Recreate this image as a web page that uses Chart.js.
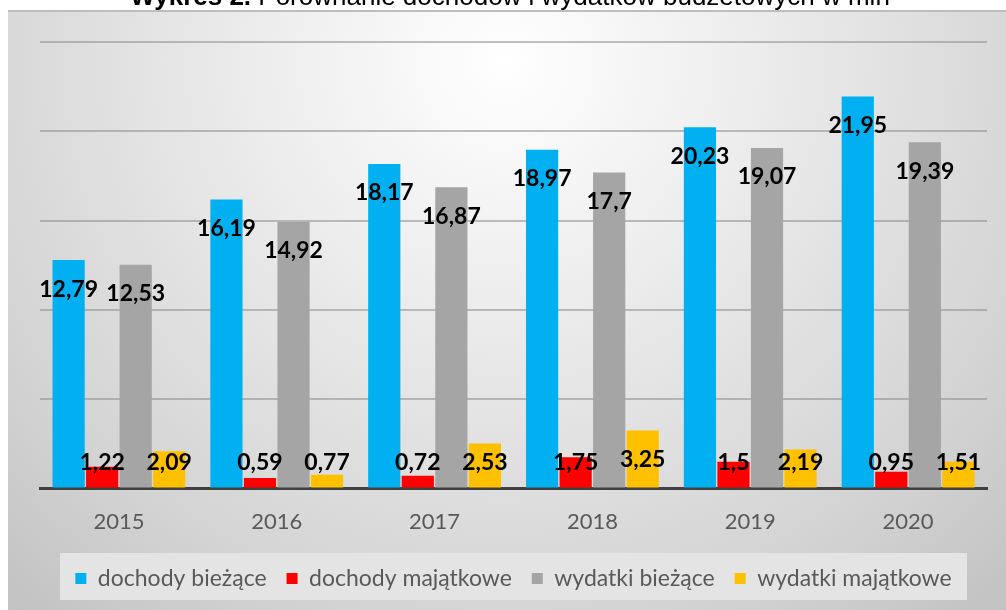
<!DOCTYPE html>
<html>
<head>
<meta charset="utf-8">
<script src="https://cdn.jsdelivr.net/npm/chart.js@4.4.1/dist/chart.umd.min.js"></script>
<style>
    body { margin: 0; background: #fff; }
    #wrap { position: relative; width: 1006px; height: 610px; overflow: hidden; }
    #title {
        position: absolute; left: 0; top: -17px; width: 1006px; padding-left: 14px; box-sizing: border-box;
        text-align: center; font: 26px/26px "Liberation Sans", Arial, sans-serif; color: #000; z-index: 2;
    }
</style>
</head>
<body>
<div id="wrap">
    <div id="title"><b>Wykres 2.</b> Porównanie dochodów i wydatków budżetowych w mln</div>
    <canvas id="myChart" width="1006" height="610"></canvas>
</div>
<script>
const years = ['2015', '2016', '2017', '2018', '2019', '2020'];

const dochodyBiezace = [12.79, 16.19, 18.17, 18.97, 20.23, 21.95];
const dochodyMajatkowe = [1.22, 0.59, 0.72, 1.75, 1.5, 0.95];
const wydatkiBiezace = [12.53, 14.92, 16.87, 17.7, 19.07, 19.39];
const wydatkiMajatkowe = [2.09, 0.77, 2.53, 3.25, 2.19, 1.51];

const seriesNames = ['dochody bieżące', 'dochody majątkowe', 'wydatki bieżące', 'wydatki majątkowe'];
const seriesColors = ['#00b0f0', '#ff0000', '#a5a5a5', '#ffc000'];

// grey gradient panel + light box behind the legend
const panelBackground = {
    id: 'panelBackground',
    beforeDraw: (chart) => {
        const ctx = chart.ctx;
        ctx.save();
        ctx.fillStyle = '#ffffff';
        ctx.fillRect(0, 0, chart.width, chart.height);

        const grad = ctx.createRadialGradient(505, 60, 0, 505, 60, 760);
        grad.addColorStop(0, '#ffffff');
        grad.addColorStop(0.3, '#eeeeee');
        grad.addColorStop(0.75, '#d3d3d3');
        grad.addColorStop(1, '#c0c0c0');
        ctx.fillStyle = grad;
        ctx.fillRect(8, 10, chart.width - 8, chart.height - 10);

        ctx.fillStyle = '#bdbdbd';
        ctx.fillRect(8, 10, chart.width - 8, 2);

        const lg = chart.legend;
        const area = chart.chartArea;
        ctx.fillStyle = '#e4e4e4';
        ctx.fillRect(area.left + 20, lg.bottom - 47, area.right - area.left - 40, 47);
        ctx.restore();
    }
};

// value labels, inside end of the bar, kept above the axis for short bars
const valueLabels = {
    id: 'valueLabels',
    afterDatasetsDraw: (chart) => {
        const ctx = chart.ctx;
        const baseY = chart.scales.y.getPixelForValue(0);
        ctx.save();
        ctx.font = 'bold 23px Lato';
        ctx.fillStyle = '#000000';
        ctx.textAlign = 'center';
        ctx.textBaseline = 'middle';
        chart.data.datasets.forEach((ds, i) => {
            chart.getDatasetMeta(i).data.forEach((bar, j) => {
                const y = Math.min(bar.y + 29, baseY - 26);
                ctx.fillText(String(ds.data[j]).replace('.', ','), bar.x, y);
            });
        });
        ctx.restore();
    }
};

const displayChart = () => {
    const datasets = [dochodyBiezace, dochodyMajatkowe, wydatkiBiezace, wydatkiMajatkowe].map((values, i) => ({
        label: seriesNames[i],
        data: values,
        backgroundColor: seriesColors[i],
        borderWidth: 0,
        categoryPercentage: 0.85,
        barPercentage: 0.96
    }));

    new Chart(document.getElementById('myChart'), {
        type: 'bar',
        data: { labels: years, datasets: datasets },
        options: {
            responsive: false,
            animation: false,
            events: [],
            layout: { padding: { left: 40, right: 19, top: 42, bottom: 10 } },
            scales: {
                x: {
                    grid: { display: false },
                    border: { display: true, color: '#404040', width: 3 },
                    ticks: { color: '#595959', font: { family: 'Lato', size: 22 }, padding: 12 }
                },
                y: {
                    min: 0,
                    max: 25,
                    ticks: { display: false, stepSize: 5 },
                    border: { display: false },
                    grid: { color: 'rgba(140,140,140,0.55)', lineWidth: 2, drawTicks: false }
                }
            },
            plugins: {
                title: { display: false },
                tooltip: { enabled: false },
                legend: {
                    position: 'bottom',
                    labels: {
                        color: '#595959',
                        font: { family: 'Lato', size: 23 },
                        boxWidth: 11,
                        boxHeight: 11,
                        padding: 20
                    }
                }
            }
        },
        plugins: [panelBackground, valueLabels]
    });
};

displayChart();
</script>
</body>
</html>
